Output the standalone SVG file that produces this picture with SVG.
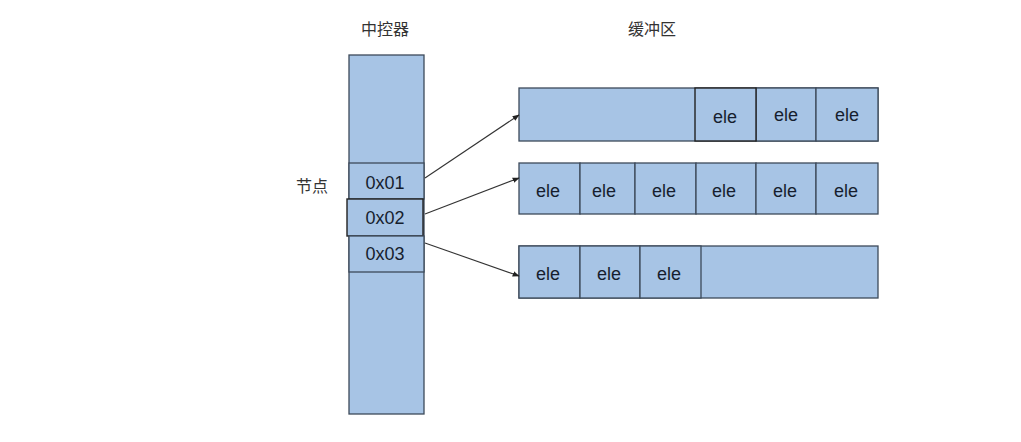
<svg xmlns="http://www.w3.org/2000/svg" width="1021" height="442" viewBox="0 0 1021 442">
<style>
.box{fill:#a7c4e5;stroke:#3d4a5a;stroke-width:1.3}
.hl{fill:#a7c4e5;stroke:#222;stroke-width:1.4}
.t{font-family:"Liberation Sans",Arial,sans-serif;font-size:18px;fill:#161e2e;text-anchor:middle}
.cn{font-family:"Noto Sans CJK SC","Noto Sans",sans-serif;font-size:16px;fill:#333;text-anchor:middle}
.c{stroke:#333;stroke-width:1.1;fill:none;marker-end:url(#ah)}
</style>
<defs>
<marker id="ah" viewBox="0 0 10 10" refX="9" refY="5" markerWidth="7" markerHeight="7" orient="auto" markerUnits="userSpaceOnUse">
<path d="M0,1 L10,5 L0,9 z" fill="#222"/>
</marker>
</defs>
<rect width="1021" height="442" fill="#fff"/>
<text class="cn" x="385" y="35">中控器</text>
<text class="cn" x="652" y="35">缓冲区</text>
<text class="cn" x="312" y="192">节点</text>
<g id="controller">
<rect class="box" x="349" y="55" width="75" height="359"/>
</g>
<g id="n1"><rect class="box" x="349" y="163" width="75" height="36"/><text class="t" x="385" y="189">0x01</text></g>
<g id="n2"><rect class="hl" x="347" y="199" width="76" height="37"/><text class="t" x="385" y="224">0x02</text></g>
<g id="n3"><rect class="box" x="349" y="236" width="75" height="36"/><text class="t" x="385" y="260">0x03</text></g>
<g id="buf1">
<rect class="box" x="519" y="88" width="359" height="53"/>
<rect class="box" x="756" y="88" width="60" height="53"/>
<rect class="box" x="816" y="88" width="62" height="53"/>
<rect class="hl" x="695" y="88" width="61" height="53"/>
<text class="t" x="725" y="123">ele</text><text class="t" x="786" y="121">ele</text><text class="t" x="847" y="121">ele</text>
</g>
<g id="buf2">
<rect class="box" x="519" y="163" width="61" height="51"/>
<rect class="box" x="580" y="163" width="55" height="51"/>
<rect class="box" x="635" y="163" width="61" height="51"/>
<rect class="box" x="696" y="163" width="60" height="51"/>
<rect class="box" x="756" y="163" width="60" height="51"/>
<rect class="box" x="816" y="163" width="62" height="51"/>
<text class="t" x="548" y="197">ele</text><text class="t" x="604" y="197">ele</text><text class="t" x="664" y="197">ele</text><text class="t" x="724" y="197">ele</text><text class="t" x="785" y="197">ele</text><text class="t" x="846" y="197">ele</text>
</g>
<g id="buf3">
<rect class="box" x="519" y="246" width="359" height="52"/>
<rect class="box" x="519" y="246" width="61" height="52"/>
<rect class="box" x="580" y="246" width="60" height="52"/>
<rect class="box" x="640" y="246" width="61" height="52"/>
<text class="t" x="548" y="280">ele</text><text class="t" x="609" y="280">ele</text><text class="t" x="669" y="280">ele</text>
</g>
<g id="connectors">
<line class="c" x1="425" y1="178" x2="519" y2="115"/>
<line class="c" x1="425" y1="214" x2="519" y2="178"/>
<line class="c" x1="425" y1="243" x2="519" y2="276"/>
</g>
</svg>
